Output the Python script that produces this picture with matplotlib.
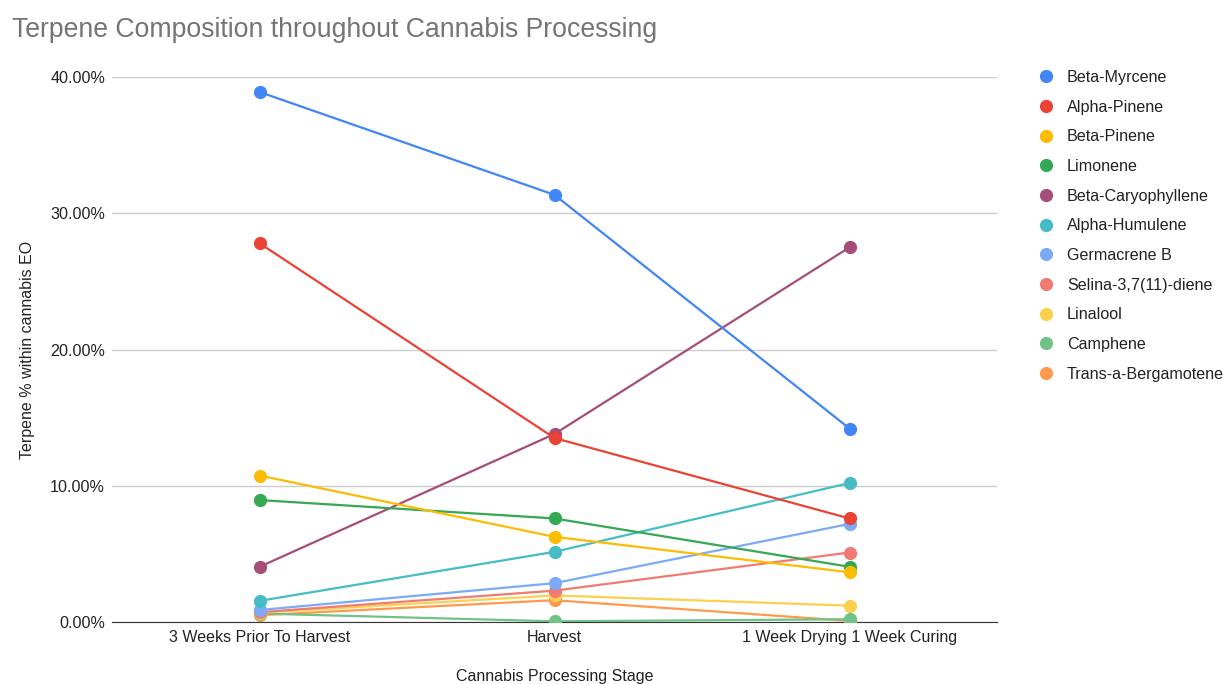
import matplotlib
matplotlib.use("Agg")
import matplotlib.pyplot as plt
from matplotlib.ticker import FuncFormatter

stages = ["3 Weeks Prior To Harvest", "Harvest", "1 Week Drying 1 Week Curing"]
beta_myrcene = [38.9, 31.35, 14.2]
alpha_pinene = [27.8, 13.5, 7.6]
beta_pinene = [10.75, 6.25, 3.65]
limonene = [8.95, 7.6, 4.05]
beta_caryophyllene = [4.05, 13.8, 27.5]
alpha_humulene = [1.55, 5.15, 10.2]
germacrene_b = [0.88, 2.85, 7.2]
selina = [0.72, 2.3, 5.1]
linalool = [0.68, 1.95, 1.2]
camphene = [0.62, 0.05, 0.2]
bergamotene = [0.5, 1.6, 0.08]

series = [
    ("Beta-Myrcene", beta_myrcene, "#4285F4"),
    ("Alpha-Pinene", alpha_pinene, "#EA4335"),
    ("Beta-Pinene", beta_pinene, "#FBBC04"),
    ("Limonene", limonene, "#34A853"),
    ("Beta-Caryophyllene", beta_caryophyllene, "#A64D79"),
    ("Alpha-Humulene", alpha_humulene, "#46BDC6"),
    ("Germacrene B", germacrene_b, "#7BAAF7"),
    ("Selina-3,7(11)-diene", selina, "#F07B72"),
    ("Linalool", linalool, "#FCD04F"),
    ("Camphene", camphene, "#71C287"),
    ("Trans-a-Bergamotene", bergamotene, "#FF994D"),
]

plt.rcParams['font.family'] = ['Liberation Sans', 'DejaVu Sans']

W, H = 1223, 684
fig = plt.figure(figsize=(W / 100, H / 100), dpi=100)
ax = fig.add_axes([112 / W, 1 - 622 / H, (997 - 112) / W, (622 - 77) / H])

x = list(range(len(stages)))
for name, vals, col in reversed(series):
    ax.plot(x, vals, color=col, lw=1.6, marker="o", markersize=8.5, label=name, zorder=3)

ax.set_xlim(-0.5, 2.5)
ax.set_ylim(0, 40)
ax.set_yticks([0, 10, 20, 30, 40])
ax.yaxis.set_major_formatter(FuncFormatter(lambda v, p: f"{v:.2f}%"))
ax.set_xticks(x)
ax.set_xticklabels(stages)
ax.grid(axis="y", color="#cccccc", lw=1)
ax.set_axisbelow(True)
for s in ["top", "right", "left"]:
    ax.spines[s].set_visible(False)
ax.spines["bottom"].set_color("#333333")
ax.tick_params(axis="y", length=0, labelsize=11.6, colors="#222222", pad=5)
ax.tick_params(axis="x", length=0, labelsize=11.5, colors="#222222", pad=6)
ax.set_xlabel("Cannabis Processing Stage", fontsize=11.5, color="#222222", labelpad=17)
ax.set_ylabel("Terpene % within cannabis EO", fontsize=11.5, color="#222222", labelpad=11)

fig.text(12 / W, 1 - 30 / H, "Terpene Composition throughout Cannabis Processing",
         fontsize=19.2, color="#757575", va="center", ha="left")

handles, labels = ax.get_legend_handles_labels()
handles, labels = handles[::-1], labels[::-1]
leg = fig.legend(handles, labels, loc="upper left", bbox_to_anchor=(1038 / W, 1 - 70 / H),
                 frameon=False, fontsize=11.6, labelspacing=0.91, handlelength=1.0,
                 handletextpad=0.8, borderaxespad=0, borderpad=0)
for h in leg.legend_handles:
    h.set_linestyle("none")
for t in leg.get_texts():
    t.set_color("#222222")

fig.savefig("out.png", dpi=100)
